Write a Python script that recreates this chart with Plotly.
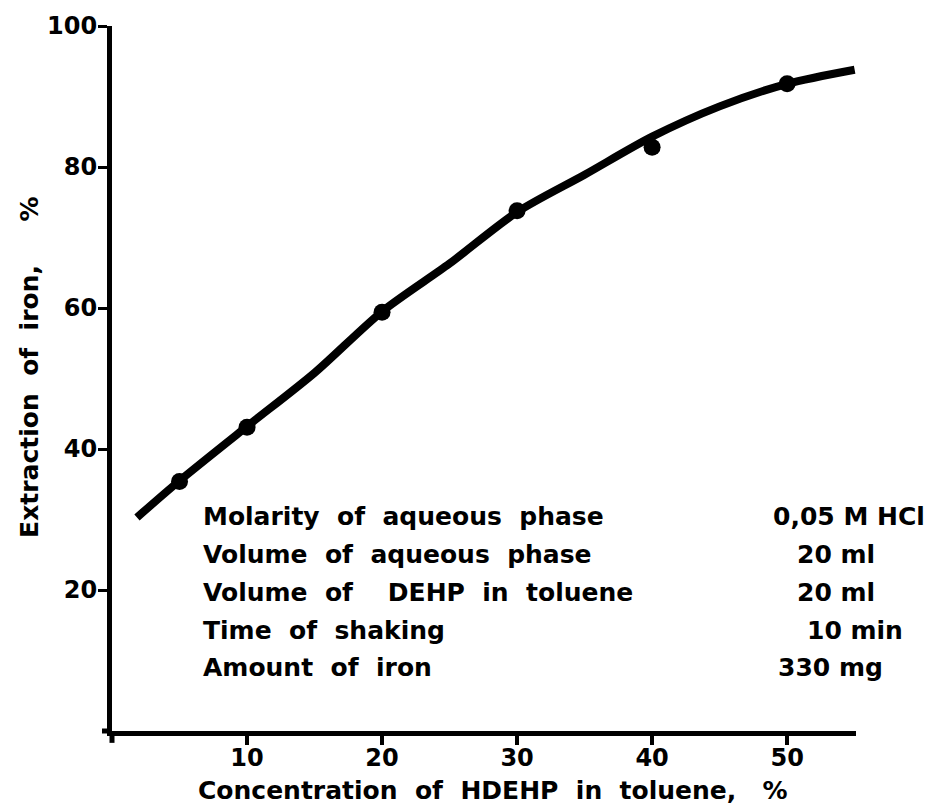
import plotly.graph_objects as go

# Measured points
conc_pts = [5, 10, 20, 30, 40, 50]
extr_pts = [35.4, 43.1, 59.4, 73.8, 82.8, 91.8]

# Hand-drawn smooth curve
curve_x = [1.85, 5, 10, 15, 20, 25, 30, 35, 40, 45, 50, 55]
curve_y = [30.3, 35.5, 43.2, 50.8, 59.5, 66.3, 73.6, 78.9, 84.3, 88.6, 91.8, 93.8]

x_ticks = [10, 20, 30, 40, 50]
y_ticks = [20, 40, 60, 80, 100]

cond_labels = ["Molarity of aqueous phase", "Volume of aqueous phase",
               "Volume of  DEHP in toluene", "Time of shaking", "Amount of iron"]
cond_values = ["0,05 M HCl", "20 ml", "20 ml", "10 min", "330 mg"]
cond_y = [30.4, 25.1, 19.7, 14.2, 9.0]
value_center_px = [849, 836, 836, 855, 830]

FONT = "DejaVu Sans"
NB = "\u00a0"
PLOT_L, PLOT_W = 112, 744
PLOT_T, PLOT_B = 17, 80


def spaced(s, n=2):
    return s.replace(" ", NB * n)


def paper_x(px):
    return (px - PLOT_L) / PLOT_W


txt_font = dict(family=FONT, size=25, color="black", weight="bold")
tick_font = dict(family=FONT, size=24, color="black", weight="bold")

fig = go.Figure()
fig.add_trace(go.Scatter(x=curve_x, y=curve_y, mode="lines",
                         line=dict(color="black", width=8, shape="spline", smoothing=0.8),
                         hoverinfo="skip", showlegend=False))
fig.add_trace(go.Scatter(x=conc_pts, y=extr_pts, mode="markers",
                         marker=dict(color="black", size=17),
                         showlegend=False, cliponaxis=False))

annotations = []
for lab, val, yy, cx in zip(cond_labels, cond_values, cond_y, value_center_px):
    annotations.append(dict(x=paper_x(201), y=yy, xref="paper", yref="y", text=spaced(lab),
                            showarrow=False, xanchor="left", yanchor="middle", font=txt_font))
    annotations.append(dict(x=paper_x(cx), y=yy, xref="paper", yref="y", text=spaced(val, 1),
                            showarrow=False, xanchor="center", yanchor="middle", font=txt_font))

annotations.append(dict(x=paper_x(30), y=51.5, xref="paper", yref="y",
                        text=spaced("Extraction of iron,") + NB * 5 + "%", textangle=-90,
                        showarrow=False, xanchor="center", yanchor="middle", font=txt_font))
annotations.append(dict(x=paper_x(492), y=-0.084, xref="paper", yref="paper",
                        text=spaced("Concentration of HDEHP in toluene,") + NB * 3 + "%",
                        showarrow=False, xanchor="center", yanchor="middle", font=txt_font))

plot_h = 811 - PLOT_T - PLOT_B

fig.update_layout(
    width=934, height=811,
    margin=dict(l=PLOT_L, r=934 - PLOT_L - PLOT_W, t=PLOT_T, b=PLOT_B),
    paper_bgcolor="white", plot_bgcolor="white",
    showlegend=False,
    annotations=annotations,
    shapes=[
        dict(type="line", xref="paper", yref="paper", x0=paper_x(102), x1=0, y0=0, y1=0,
             line=dict(color="black", width=5)),
        dict(type="line", xref="paper", yref="paper", x0=0, x1=0, y0=-12 / plot_h, y1=0,
             line=dict(color="black", width=5)),
    ],
    xaxis=dict(range=[0, 55.1], showgrid=False, zeroline=False, showline=True,
               linecolor="black", linewidth=5, ticks="outside", ticklen=9, tickwidth=4,
               tickcolor="black", tickvals=x_ticks, ticktext=[str(v) for v in x_ticks],
               tickfont=tick_font, ticklabelstandoff=-8),
    yaxis=dict(range=[0, 100], showgrid=False, zeroline=False, showline=True,
               linecolor="black", linewidth=5, ticks="outside", ticklen=9, tickwidth=3,
               tickcolor="black", tickvals=y_ticks, ticktext=[str(v) for v in y_ticks],
               tickfont=tick_font, ticklabelstandoff=-4),
)

fig.write_html("out.html", config={"displayModeBar": False},
               post_script="document.body.style.margin='0';document.body.style.overflow='hidden';")
